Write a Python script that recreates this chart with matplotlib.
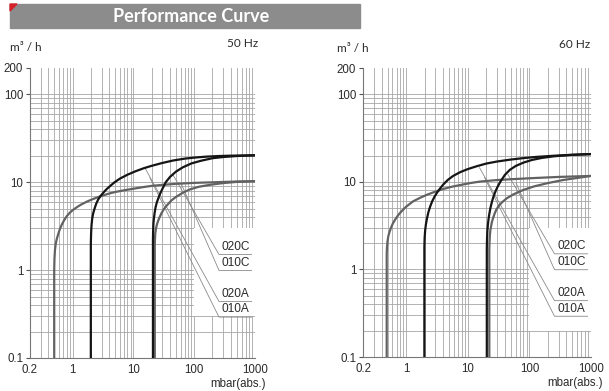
import matplotlib
matplotlib.use("Agg")
from matplotlib import pyplot as plt
from matplotlib.patches import Rectangle, Polygon
from matplotlib.ticker import FixedLocator, NullFormatter

# pressure in mbar(abs.), suction speed in m3/h

# 50 Hz
x_010A_50 = [0.5, 0.5, 0.505, 0.515, 0.53, 0.55, 0.575, 0.61, 0.66, 0.72, 0.8, 0.9, 1.0, 1.2, 1.4, 1.7,
             2.0, 2.5, 3.0, 4.0, 5.0, 7.0, 10, 15, 20, 30, 50, 100, 200, 500, 1000]
y_010A_50 = [0.1, 1.0, 1.35, 1.7, 2.0, 2.25, 2.5, 2.85, 3.25, 3.65, 4.1, 4.5, 4.8, 5.25, 5.6, 6.0,
             6.3, 6.7, 7.0, 7.45, 7.75, 8.1, 8.45, 8.85, 9.1, 9.35, 9.6, 9.85, 10.0, 10.2, 10.3]
x_020A_50 = [2.0, 2.0, 2.02, 2.05, 2.1, 2.18, 2.3, 2.45, 2.65, 2.9, 3.2, 3.6, 4.1, 4.9, 6.0, 8.0, 11,
             15, 20, 30, 45, 70, 100, 160, 250, 400, 1000]
y_020A_50 = [0.1, 2.0, 2.6, 3.2, 3.8, 4.4, 5.0, 5.7, 6.4, 7.0, 7.6, 8.3, 9.0, 10.0, 11.0, 12.2, 13.4,
             14.5, 15.4, 16.6, 17.7, 18.6, 19.1, 19.6, 19.9, 20.1, 20.3]
x_020C_50 = [21, 21, 21.15, 21.4, 21.8, 22.4, 23.2, 24.3, 25.8, 27.5, 30, 34, 40, 50, 65, 90, 130,
             200, 300, 500, 1000]
y_020C_50 = [0.1, 2.2, 2.8, 3.4, 3.9, 4.5, 5.2, 5.9, 6.6, 7.4, 8.4, 10.0, 11.5, 13.2, 14.8, 16.4, 17.6,
             18.8, 19.4, 19.9, 20.3]
x_010C_50 = [22.5, 22.5, 22.7, 23.0, 23.6, 24.4, 25.4, 27, 29, 32, 36, 42, 50, 65, 85, 120, 180,
             300, 500, 1000]
y_010C_50 = [0.1, 1.9, 2.3, 2.65, 3.0, 3.3, 3.6, 4.0, 4.45, 5.0, 5.5, 6.2, 6.8, 7.6, 8.3, 8.9, 9.35,
             9.8, 10.1, 10.3]

# 60 Hz
x_010A_60 = [0.485, 0.485, 0.49, 0.5, 0.515, 0.54, 0.57, 0.61, 0.67, 0.75, 0.85, 1.0, 1.3, 1.7, 2.2,
             3.0, 4.0, 5.5, 7.5, 11, 16, 30, 60, 130, 300, 1000]
y_010A_60 = [0.1, 1.5, 1.8, 2.1, 2.4, 2.7, 3.0, 3.35, 3.75, 4.2, 4.65, 5.2, 6.0, 6.6, 7.15,
             7.75, 8.3, 8.8, 9.2, 9.7, 10.1, 10.5, 10.8, 11.1, 11.4, 11.7]
x_020A_60 = [1.98, 1.98, 2.0, 2.04, 2.1, 2.18, 2.3, 2.45, 2.65, 2.9, 3.2, 3.6, 4.1, 4.8, 5.8, 7.5,
             10, 14, 20, 30, 50, 80, 130, 250, 500, 1000]
y_020A_60 = [0.1, 1.8, 2.3, 2.8, 3.3, 3.8, 4.5, 5.2, 6.0, 6.8, 7.6, 8.5, 9.5, 10.6, 11.7, 12.9,
             14.0, 15.1, 16.2, 17.1, 18.0, 18.7, 19.3, 19.9, 20.4, 20.8]
x_020C_60 = [20.4, 20.4, 20.55, 20.8, 21.2, 21.7, 22.4, 23.3, 24.5, 26, 28, 30.5, 34, 40, 48, 60,
             80, 110, 160, 250, 450, 1000]
y_020C_60 = [0.1, 1.7, 2.2, 2.7, 3.2, 3.7, 4.3, 5.0, 5.8, 6.7, 7.7, 8.8, 10.1, 12.0, 13.7, 15.2,
             16.6, 17.8, 18.8, 19.6, 20.3, 20.8]
x_010C_60 = [22.4, 22.4, 22.6, 22.9, 23.3, 23.9, 24.6, 25.6, 27, 29, 32, 36, 43, 55, 80, 120,
             200, 350, 600, 1000]
y_010C_60 = [0.1, 1.7, 2.1, 2.45, 2.8, 3.1, 3.45, 3.8, 4.25, 4.8, 5.35, 5.85, 6.5, 7.2, 8.1, 8.9,
             9.7, 10.5, 11.1, 11.7]

labels = ['020C', '010C', '020A', '010A']
x_ticks = [0.2, 1, 10, 100, 1000]
x_ticklabels = ['0.2', '1', '10', '100', '1000']
y_ticks = [0.1, 1, 10, 100, 200]
y_ticklabels = ['0.1', '1', '10', '100', '200']

GRID = '#a6a6a6'
BLACK = '#151515'
GRAY = '#626262'
TXT = '#2a2a2a'


def draw_panel(ax, curves, hz, box_bottom, unit_x, hz_x):
    ax.set_xscale('log')
    ax.set_yscale('log')
    ax.set_xlim(0.2, 1000)
    ax.set_ylim(0.1, 200)
    ax.set_axisbelow(True)

    ax.xaxis.set_major_locator(FixedLocator(x_ticks))
    ax.set_xticklabels(x_ticklabels)
    ax.yaxis.set_major_locator(FixedLocator(y_ticks))
    ax.set_yticklabels(y_ticklabels)
    minor = [k * 10.0 ** d for d in range(-1, 3) for k in range(1, 10)]
    ax.xaxis.set_minor_locator(FixedLocator([v for v in minor + [1000] if 0.2 <= v <= 1000]))
    ax.yaxis.set_minor_locator(FixedLocator([v for v in minor if 0.1 <= v < 200]))
    ax.xaxis.set_minor_formatter(NullFormatter())
    ax.yaxis.set_minor_formatter(NullFormatter())
    ax.grid(True, which='both', color=GRID, lw=0.6)
    ax.grid(False, which='major', axis='y')
    # major y lines again but without the top one
    for v in [0.1, 1, 10, 100]:
        ax.axhline(v, color=GRID, lw=0.6, zorder=0.5)

    for lab in ax.get_xticklabels() + ax.get_yticklabels():
        lab.set_family('Liberation Sans')
        lab.set_fontsize(8.3)
        lab.set_color(TXT)
    ax.tick_params(axis='x', which='both', length=0, pad=4)
    ax.tick_params(axis='y', which='major', length=3, pad=2, color='#555555')
    ax.tick_params(axis='y', which='minor', length=0)

    for s in ['top', 'right']:
        ax.spines[s].set_visible(False)
    for s in ['left', 'bottom']:
        ax.spines[s].set_color('#777777')
        ax.spines[s].set_linewidth(0.8)

    # white box behind the curve names
    ax.add_patch(Rectangle((100, box_bottom), 900, 3 - box_bottom, fc='white', ec='none', zorder=1))

    for name in ['010A', '020A', '010C', '020C']:
        x, y = curves[name]
        col = BLACK if name.startswith('020') else GRAY
        ax.plot(x, y, color=col, lw=1.6, zorder=3, solid_joinstyle='round')

    # leader lines and names
    starts = {'020C': (0.636, 0.631), '010C': (0.671, 0.603), '020A': (0.511, 0.655), '010A': (0.533, 0.621)}
    under_y = {'020C': 0.357, '010C': 0.302, '020A': 0.195, '010A': 0.141}
    for name in labels:
        sx, sy = starts[name]
        uy = under_y[name]
        ax.plot([sx, 0.84, 0.985], [sy, uy, uy], transform=ax.transAxes,
                color='#8a8a8a', lw=0.6, zorder=2)
        ax.text(0.915, uy + 0.006, name, transform=ax.transAxes, ha='center', va='bottom',
                fontsize=8.6, family='Liberation Sans', color=TXT, zorder=4)

    ax.text(unit_x, 1.069, 'm\u00b3 / h', transform=ax.transAxes, ha='left', va='center',
            fontsize=8.5, family='Lato', color=TXT)
    ax.text(hz_x, 1.083, hz, transform=ax.transAxes, ha='right', va='center',
            fontsize=8.5, family='Lato', color=TXT)
    ax.text(1.05, -0.09, 'mbar(abs.)', transform=ax.transAxes, ha='right', va='center',
            fontsize=8.3, family='Liberation Sans', color=TXT)


fig = plt.figure(figsize=(6.09, 3.91), dpi=100)
ax1 = fig.add_axes([30 / 609, 33 / 391, 225 / 609, 290 / 391])
ax2 = fig.add_axes([363 / 609, 34 / 391, 228 / 609, 289 / 391])

curves_50 = {'010A': (x_010A_50, y_010A_50), '020A': (x_020A_50, y_020A_50),
             '020C': (x_020C_50, y_020C_50), '010C': (x_010C_50, y_010C_50)}
curves_60 = {'010A': (x_010A_60, y_010A_60), '020A': (x_020A_60, y_020A_60),
             '020C': (x_020C_60, y_020C_60), '010C': (x_010C_60, y_010C_60)}

draw_panel(ax1, curves_50, '50 Hz', 0.3, -0.089, 1.013)
draw_panel(ax2, curves_60, '60 Hz', 0.2, -0.114, 0.996)

# header bar
fig.patches.append(Rectangle((10 / 609, 363 / 391), 350 / 609, 24 / 391,
                             transform=fig.transFigure, color='#8c8c8c', zorder=0))
fig.patches.append(Polygon([(10 / 609, 387 / 391), (17 / 609, 387 / 391), (10 / 609, 380 / 391)],
                           closed=True, transform=fig.transFigure, color='#d2232a', zorder=1))
fig.text(191 / 609, 375 / 391, 'Performance Curve', ha='center', va='center',
         fontsize=13, fontweight='bold', family='Lato', color='white')

fig.savefig('out.png', dpi=100)
